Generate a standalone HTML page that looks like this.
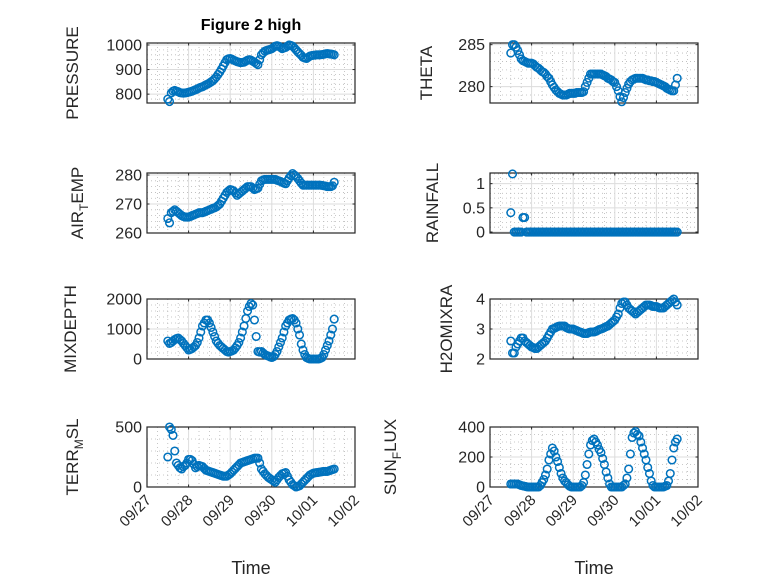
<!DOCTYPE html>
<html><head><meta charset="utf-8"><style>
html,body{margin:0;padding:0;background:#fff;}
svg{display:block;font-family:"Liberation Sans","DejaVu Sans",sans-serif;}
</style></head><body>
<svg id="fig" width="778" height="583" viewBox="0 0 778 583" xmlns="http://www.w3.org/2000/svg">
<rect width="778" height="583" fill="#fff"/>
<text x="251" y="30" text-anchor="middle" font-size="16" font-weight="bold" fill="#000">Figure 2 high</text>
<text x="251" y="574" text-anchor="middle" font-size="18" fill="#262626">Time</text>
<text x="594" y="574" text-anchor="middle" font-size="18" fill="#262626">Time</text>
</svg>
<script>
const t0 = 0.5, dtHours = 1;
const dateTicks = ["09/27","09/28","09/29","09/30","10/01","10/02"];
const pressure = [780,770,805,812,815,812,810,806,805,804,805,806,
 808,810,812,815,818,821,825,828,830,834,838,841,
 845,850,855,862,870,880,890,902,915,928,940,944,
 945,942,938,935,932,930,928,929,930,934,938,940,
 938,934,930,925,920,940,960,968,975,978,980,982,
 985,990,995,997,995,990,985,988,990,995,1000,998,
 995,988,980,972,965,958,950,947,945,950,955,957,
 958,959,960,960,960,961,962,964,965,964,963,962,
 960];
const airTemp = [265,263.5,267,267.5,268,267.5,267,266.5,266,265.7,265.5,265.5,
 265.5,265.7,266,266.2,266.5,266.7,267,267,267,267.2,267.5,267.7,
 268,268.2,268.5,268.7,269,269.5,270,271,272,273,274,274.5,
 275,274.8,274.5,273.8,273,273.5,274,274.5,275,275.5,276,276,
 276,275.5,275,275.2,275.5,276.8,278,278.3,278.5,278.5,278.5,278.5,
 278.5,278.5,278.5,278.2,278,277.8,277.5,277.2,277,278,279,279.8,
 280.5,280,279.5,278.8,278,277.2,276.5,276.5,276.5,276.5,276.5,276.5,
 276.5,276.5,276.5,276.5,276.5,276.4,276.3,276.2,276,276,276,276.3,
 277.5];
const mixDepth = [600,520,550,600,650,680,700,650,600,520,450,380,
 300,320,350,400,450,550,700,900,1100,1200,1300,1300,
 1200,1050,900,750,600,520,450,400,350,300,250,230,
 250,270,300,370,450,550,700,900,1100,1350,1600,1750,
 1850,1800,1300,750,250,230,250,200,150,120,100,70,
 50,80,150,250,400,550,700,900,1100,1200,1300,1330,
 1350,1300,1200,1000,800,500,300,150,50,20,0,0,
 0,0,0,0,20,50,150,300,450,600,800,1000,
 1330];
const terrMsl = [250,500,480,430,300,200,180,160,150,170,180,200,
 230,230,220,190,160,170,180,175,170,155,140,135,
 130,125,120,115,110,105,100,95,90,90,90,100,
 110,125,140,155,170,185,200,205,210,215,220,225,
 230,235,240,240,240,200,150,130,110,95,80,70,
 60,50,40,60,80,95,110,115,120,90,60,40,
 20,10,0,5,10,25,40,55,70,85,100,108,
 115,118,120,122,125,128,130,130,130,135,140,145,
 150];
const theta = [284,285,285,284.7,284.3,283.8,283.3,283.1,283,282.9,282.8,282.8,
 282.8,282.7,282.5,282.3,282.2,282,281.8,281.7,281.5,281.2,281,280.6,
 280.2,279.9,279.6,279.4,279.2,279.1,279,279,279,279.1,279.2,279.2,
 279.2,279.2,279.3,279.3,279.3,279.3,279.4,280,280.5,281,281.5,281.5,
 281.5,281.5,281.5,281.5,281.5,281.4,281.3,281.2,281,280.9,280.8,280.6,
 280.5,280,279.5,278.8,278.2,278.7,279.3,279.8,280.3,280.6,280.8,280.9,
 281,281,281,281,281,280.9,280.8,280.8,280.7,280.7,280.6,280.6,
 280.5,280.4,280.3,280.2,280.1,280,279.8,279.7,279.6,279.5,279.5,280.2,
 281];
const rainfall = [0.4,1.2,0,0,0,0,0,0.3,0.3,0,0,0,
 0,0,0,0,0,0,0,0,0,0,0,0,
 0,0,0,0,0,0,0,0,0,0,0,0,
 0,0,0,0,0,0,0,0,0,0,0,0,
 0,0,0,0,0,0,0,0,0,0,0,0,
 0,0,0,0,0,0,0,0,0,0,0,0,
 0,0,0,0,0,0,0,0,0,0,0,0,
 0,0,0,0,0,0,0,0,0,0,0,0,
 0];
const h2oMix = [2.6,2.2,2.2,2.4,2.5,2.6,2.7,2.7,2.6,2.55,2.5,2.45,
 2.4,2.38,2.35,2.35,2.4,2.45,2.5,2.55,2.6,2.7,2.8,2.9,
 3.0,3.02,3.05,3.08,3.1,3.1,3.1,3.1,3.05,3.02,3.0,3.0,
 3.0,2.97,2.95,2.92,2.9,2.88,2.85,2.85,2.85,2.88,2.9,2.9,
 2.9,2.92,2.95,2.98,3.0,3.02,3.05,3.08,3.1,3.15,3.2,3.25,
 3.3,3.4,3.5,3.7,3.85,3.9,3.9,3.8,3.7,3.65,3.6,3.55,
 3.5,3.55,3.6,3.65,3.7,3.75,3.8,3.8,3.8,3.78,3.75,3.75,
 3.75,3.72,3.7,3.7,3.7,3.75,3.8,3.85,3.9,3.95,4.0,3.9,
 3.8];
const sunFlux = [20,20,20,20,20,15,10,7,5,2,0,0,
 0,0,0,0,0,10,30,50,80,120,180,220,
 260,240,200,170,130,90,60,40,30,15,5,0,
 0,0,0,0,0,10,30,80,150,220,280,310,
 320,300,280,250,230,190,150,100,60,20,0,0,
 0,0,0,0,0,10,20,60,120,220,330,360,
 370,350,340,300,260,220,180,130,90,40,10,0,
 0,0,0,0,0,5,10,40,90,180,260,300,
 320];

const NS = "http://www.w3.org/2000/svg";
const svg = document.getElementById("fig");
function mk(tag, attrs, parent){ const e=document.createElementNS(NS,tag); for(const k in attrs) e.setAttribute(k,attrs[k]); (parent||svg).appendChild(e); return e; }

const panels = [
 {key:"pressure", data:pressure, x:147, y:43, ymin:764, ymax:1008, ticks:[800,900,1000], minor:20, lab:"PRESSURE", lx:78},
 {key:"air-temp", data:airTemp, x:147, y:173, ymin:260, ymax:280.7, ticks:[260,270,280], minor:2, lab:["AIR","T","EMP"], lx:83},
 {key:"mixdepth", data:mixDepth, x:147, y:299, ymin:0, ymax:2000, ticks:[0,1000,2000], minor:200, lab:"MIXDEPTH", lx:76},
 {key:"terr-msl", data:terrMsl, x:147, y:427, ymin:0, ymax:500, ticks:[0,500], minor:100, lab:["TERR","M","SL"], lx:78, xt:true},
 {key:"theta", data:theta, x:490, y:43, ymin:278.05, ymax:285.2, ticks:[280,285], minor:1, lab:"THETA", lx:432},
 {key:"rainfall", data:rainfall, x:490, y:173, ymin:-0.02, ymax:1.22, ticks:[0,0.5,1], minor:0.1, lab:"RAINFALL", lx:438},
 {key:"h2omixra", data:h2oMix, x:490, y:299, ymin:2, ymax:4, ticks:[2,3,4], minor:0.2, lab:"H2OMIXRA", lx:452},
 {key:"sun-flux", data:sunFlux, x:490, y:427, ymin:0, ymax:400, ticks:[0,200,400], minor:50, lab:["SUN","F","LUX"], lx:396, xt:true},
];
const W=208, H=60;
panels.forEach(p=>{
  const g = mk("g",{});
  
  
  const xs = d => p.x + d/5*W;
  const ys = v => p.y + H - (v-p.ymin)/(p.ymax-p.ymin)*H;
  mk("rect",{x:p.x,y:p.y,width:W,height:H,fill:"#fff"},g);
  for(let d=0; d<=5.0001; d+=0.25){ if(Math.abs(d-Math.round(d))<1e-6) continue;
    mk("line",{x1:xs(d),x2:xs(d),y1:p.y,y2:p.y+H,stroke:"#b8b8b8","stroke-width":0.8,"stroke-dasharray":"1,3"},g); }
  const start = Math.ceil(p.ymin/p.minor)*p.minor;
  for(let v=start; v<=p.ymax+1e-9; v+=p.minor){
    if(p.ticks.some(t=>Math.abs(t-v)<p.minor*0.01)) continue;
    mk("line",{x1:p.x,x2:p.x+W,y1:ys(v),y2:ys(v),stroke:"#b8b8b8","stroke-width":0.8,"stroke-dasharray":"1,3"},g); }
  for(let d=1; d<5; d++) mk("line",{x1:xs(d),x2:xs(d),y1:p.y,y2:p.y+H,stroke:"#dcdcdc","stroke-width":1},g);
  p.ticks.forEach(v=>mk("line",{x1:p.x,x2:p.x+W,y1:ys(v),y2:ys(v),stroke:"#dcdcdc","stroke-width":1},g));
  mk("rect",{x:p.x,y:p.y,width:W,height:H,fill:"none",stroke:"#262626","stroke-width":1.2},g);
  for(let d=0; d<=5; d++){
    mk("line",{x1:xs(d),x2:xs(d),y1:p.y+H,y2:p.y+H-2.5,stroke:"#262626"},g);
    mk("line",{x1:xs(d),x2:xs(d),y1:p.y,y2:p.y+2.5,stroke:"#262626"},g);
    if(p.xt){
      const tx = mk("text",{x:xs(d)+5,y:p.y+H+14,"text-anchor":"end","font-size":15,fill:"#262626",transform:`rotate(-45 ${xs(d)+5} ${p.y+H+14})`},g);
      
      
      tx.textContent = dateTicks[d];
    }
  }
  p.ticks.forEach(v=>{
    mk("line",{x1:p.x,x2:p.x+2.5,y1:ys(v),y2:ys(v),stroke:"#262626"},g);
    mk("line",{x1:p.x+W,x2:p.x+W-2.5,y1:ys(v),y2:ys(v),stroke:"#262626"},g);
    const tl = mk("text",{x:p.x-5,y:ys(v)+5.5,"text-anchor":"end","font-size":16,fill:"#262626"},g);
    
    
    tl.textContent = String(v);
  });
  const cy = p.y + H/2;
  const lab = mk("text",{x:p.lx,y:cy,"text-anchor":"middle","font-size":17,fill:"#262626",transform:`rotate(-90 ${p.lx} ${cy})`},g);
  
  
  if(Array.isArray(p.lab)){
    const a=mk("tspan",{},lab); a.textContent=p.lab[0];
    const b=mk("tspan",{dy:5,"font-size":12},lab); b.textContent=p.lab[1];
    const c=mk("tspan",{dy:-5},lab); c.textContent=p.lab[2];
  } else lab.textContent = p.lab;
  const mg = mk("g",{fill:"none",stroke:"#0072BD","stroke-width":1.5},g);
  
  
  p.data.forEach((v,i)=>{
    const d = t0 + i*dtHours/24;
    const c = mk("circle",{cx:xs(d),cy:ys(v),r:3.8},mg);
    
    
  });
});
</script>
</body></html>
